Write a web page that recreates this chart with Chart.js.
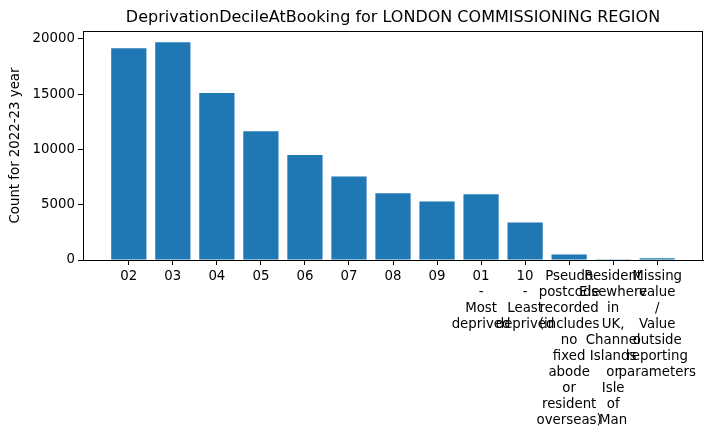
<!DOCTYPE html>
<html>
<head>
<meta charset="utf-8">
<style>
  html, body { margin: 0; padding: 0; background: #ffffff; }
  #wrap { width: 713px; height: 439px; }
</style>
<script src="https://cdn.jsdelivr.net/npm/chart.js@4.4.1/dist/chart.umd.min.js"></script>
</head>
<body>
<div id="wrap"><canvas id="c" width="713" height="439"></canvas></div>
<script>
const chartTitle = "DeprivationDecileAtBooking for LONDON COMMISSIONING REGION";
const yAxisLabel = "Count for 2022-23 year";
const categories = [
  "02", "03", "04", "05", "06", "07", "08", "09",
  "01 - Most deprived",
  "10 - Least deprived",
  "Pseudo postcode recorded (includes no fixed abode or resident overseas)",
  "Resident Elsewhere in UK, Channel Islands or Isle of Man",
  "Missing value / Value outside reporting parameters"
];
const counts = [19150, 19700, 15100, 11650, 9500, 7550, 6050, 5300, 5950, 3400, 500, 20, 150];
const yTicks = [0, 5000, 10000, 15000, 20000];

const FONT = "'DejaVu Sans', sans-serif";

const framePlugin = {
  id: 'frame',
  afterDraw(chart) {
    const a = chart.chartArea;
    const ctx = chart.ctx;
    ctx.save();
    ctx.strokeStyle = '#000';
    ctx.lineWidth = 1;
    ctx.strokeRect(Math.round(a.left) + 0.5, Math.round(a.top) + 0.5,
                   Math.round(a.right - a.left) - 1, Math.round(a.bottom - a.top));
    ctx.restore();
  }
};

new Chart(document.getElementById('c'), {
  type: 'bar',
  data: {
    datasets: [{
      data: counts.map((v, i) => ({ x: i, y: v })),
      backgroundColor: '#1f77b4',
      borderColor: '#1f77b4',
      borderWidth: 0,
      categoryPercentage: 1.0,
      barPercentage: 0.8
    }]
  },
  options: {
    responsive: false,
    animation: false,
    devicePixelRatio: 1,
    events: [],
    layout: { padding: { left: 0, right: 10, top: 0, bottom: 0 } },
    plugins: {
      legend: { display: false },
      tooltip: { enabled: false },
      title: {
        display: true,
        text: chartTitle,
        fullSize: false,
        color: '#000',
        font: { family: FONT, size: 16, weight: 'normal', lineHeight: 1.2 },
        padding: { top: 8, bottom: 3.8 }
      }
    },
    scales: {
      x: {
        type: 'linear',
        offset: false,
        min: -1.04,
        max: 13.04,
        afterBuildTicks(scale) {
          scale.ticks = categories.map((_, i) => ({ value: i }));
        },
        afterFit(scale) { scale.height = 179; },
        ticks: {
          autoSkip: false,
          maxRotation: 0,
          minRotation: 0,
          padding: 4,
          color: '#000',
          font: { family: FONT, size: 13.33, lineHeight: 1.2 },
          callback(value) {
            const lbl = categories[value];
            return lbl === undefined ? '' : lbl.split(' ');
          }
        },
        grid: {
          display: true,
          offset: false,
          drawOnChartArea: false,
          drawTicks: true,
          tickLength: 5,
          color: '#000'
        },
        border: { display: true, color: '#000' }
      },
      y: {
        type: 'linear',
        min: 0,
        max: 20720,
        afterBuildTicks(scale) {
          scale.ticks = yTicks.map(v => ({ value: v }));
        },
        afterFit(scale) { scale.width = 83; },
        ticks: {
          padding: 3,
          color: '#000',
          font: { family: FONT, size: 13.33, lineHeight: 1.2 },
          callback(value) { return String(value); }
        },
        grid: {
          display: true,
          drawOnChartArea: false,
          drawTicks: true,
          tickLength: 5,
          color: '#000'
        },
        border: { display: true, color: '#000' },
        title: {
          display: true,
          text: yAxisLabel,
          color: '#000',
          font: { family: FONT, size: 13.33, lineHeight: 1.2 },
          padding: { top: 8, bottom: 0 }
        }
      }
    }
  },
  plugins: [framePlugin]
});
</script>
</body>
</html>
